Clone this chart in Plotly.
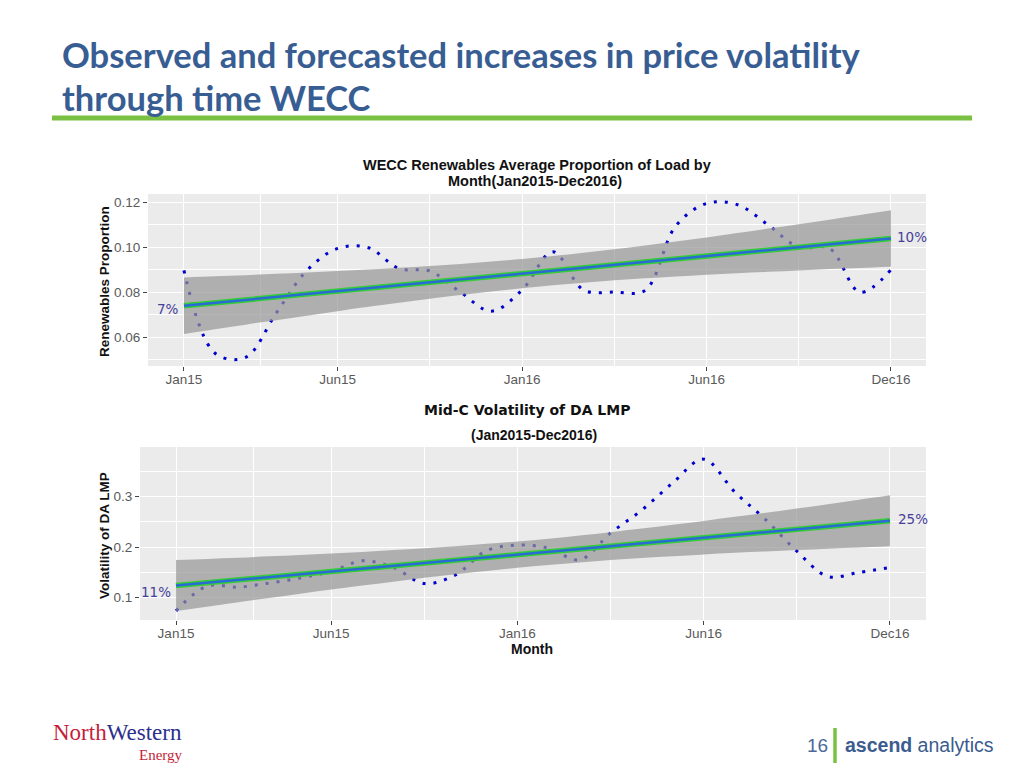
import plotly.graph_objects as go

# ---------------- data ----------------
MONTH_IDX = list(range(24))  # Jan15 .. Dec16
TICK_POS = [0, 5, 11, 17, 23]
TICK_TEXT = ["Jan15", "Jun15", "Jan16", "Jun16", "Dec16"]
MINOR_X = [2.5, 8, 14, 20]

RENEW = [0.0897, 0.053, 0.051, 0.0707, 0.0897, 0.0995, 0.0998, 0.0905, 0.0894, 0.080,
         0.0716, 0.081, 0.098, 0.081, 0.0801, 0.0808, 0.1095, 0.1195, 0.119, 0.110,
         0.100, 0.0995, 0.080, 0.090]
RENEW_TREND = [0.0740, 0.0753, 0.0766, 0.0779, 0.0792, 0.0805, 0.0818, 0.0831, 0.0844, 0.0857,
               0.0870, 0.0883, 0.0896, 0.0909, 0.0922, 0.0935, 0.0948, 0.0961, 0.0974, 0.0987,
               0.1000, 0.1013, 0.1026, 0.1039]
RENEW_LOW = [0.0614, 0.0635, 0.0656, 0.0676, 0.0696, 0.0716, 0.0735, 0.0753, 0.0771, 0.0788,
             0.0803, 0.0818, 0.0831, 0.0842, 0.0853, 0.0862, 0.0870, 0.0878, 0.0885, 0.0891,
             0.0897, 0.0903, 0.0908, 0.0913]
RENEW_HIGH = [0.0866, 0.0871, 0.0876, 0.0882, 0.0888, 0.0894, 0.0901, 0.0909, 0.0917, 0.0926,
              0.0937, 0.0948, 0.0961, 0.0976, 0.0991, 0.1008, 0.1026, 0.1044, 0.1063, 0.1083,
              0.1103, 0.1123, 0.1144, 0.1165]
RENEW_YTICKS = [0.06, 0.08, 0.10, 0.12]
RENEW_YTEXT = ["0.06", "0.08", "0.10", "0.12"]
RENEW_YMINOR = [0.05, 0.07, 0.09, 0.11]

VOL = [0.074, 0.123, 0.121, 0.129, 0.139, 0.152, 0.173, 0.160, 0.128, 0.145,
       0.193, 0.204, 0.198, 0.175, 0.228, 0.273, 0.327, 0.374, 0.309, 0.254,
       0.192, 0.142, 0.150, 0.160]
VOL_TREND = [0.1240, 0.1296, 0.1351, 0.1407, 0.1463, 0.1519, 0.1574, 0.1630, 0.1686, 0.1741,
             0.1797, 0.1853, 0.1908, 0.1964, 0.2020, 0.2076, 0.2131, 0.2187, 0.2243, 0.2298,
             0.2354, 0.2410, 0.2465, 0.2521]
VOL_LOW = [0.0736, 0.0824, 0.0911, 0.0995, 0.1079, 0.1163, 0.1242, 0.1318, 0.1394, 0.1465,
           0.1529, 0.1593, 0.1648, 0.1696, 0.1744, 0.1784, 0.1819, 0.1855, 0.1887, 0.1914,
           0.1942, 0.1970, 0.1993, 0.2017]
VOL_HIGH = [0.1744, 0.1768, 0.1791, 0.1819, 0.1847, 0.1875, 0.1906, 0.1942, 0.1978, 0.2017,
            0.2065, 0.2113, 0.2168, 0.2232, 0.2296, 0.2368, 0.2443, 0.2519, 0.2599, 0.2682,
            0.2766, 0.2850, 0.2937, 0.3025]
VOL_YTICKS = [0.1, 0.2, 0.3]
VOL_YTEXT = ["0.1", "0.2", "0.3"]
VOL_YMINOR = [0.15, 0.25, 0.35]

LABELS = {"renew_start": "7%", "renew_end": "10%", "vol_start": "11%", "vol_end": "25%"}


def px(x):
    return x / 1024.0


def py(y):
    return 1 - y / 768.0


DOT_BLUE = "#0000CD"
BAND = "rgba(150,150,150,0.7)"
GREEN = "#35CC3A"
LINE_BLUE = "#2A6AD4"
LABEL_COL = "#46409A"

fig = go.Figure()


def add_panel(xa, ya, series, trend, low, high):
    fig.add_trace(go.Scatter(x=MONTH_IDX, y=series, mode="lines", xaxis=xa, yaxis=ya,
                             line=dict(color=DOT_BLUE, width=3, dash="3px,8px",
                                       shape="spline", smoothing=1.0),
                             hoverinfo="skip"))
    fig.add_trace(go.Scatter(x=MONTH_IDX, y=high, mode="lines", xaxis=xa, yaxis=ya,
                             line=dict(width=0, color=BAND, shape="spline"),
                             hoverinfo="skip"))
    fig.add_trace(go.Scatter(x=MONTH_IDX, y=low, mode="lines", xaxis=xa, yaxis=ya,
                             line=dict(width=0, color=BAND, shape="spline"),
                             fill="tonexty", fillcolor=BAND, hoverinfo="skip"))
    fig.add_trace(go.Scatter(x=MONTH_IDX, y=trend, mode="lines", xaxis=xa, yaxis=ya,
                             line=dict(color=GREEN, width=5.5), hoverinfo="skip"))
    fig.add_trace(go.Scatter(x=MONTH_IDX, y=trend, mode="lines", xaxis=xa, yaxis=ya,
                             line=dict(color=LINE_BLUE, width=2.5), hoverinfo="skip"))


add_panel("x", "y", RENEW, RENEW_TREND, RENEW_LOW, RENEW_HIGH)
add_panel("x2", "y2", VOL, VOL_TREND, VOL_LOW, VOL_HIGH)

tickfont = dict(family="Liberation Sans, Arial", size=13.5, color="#5A5A5A")
common = dict(showline=False, zeroline=False, ticks="outside", ticklen=4,
              tickcolor="#444444", tickwidth=1, showgrid=True, gridcolor="white",
              gridwidth=1.2, tickfont=tickfont, fixedrange=True)


def minor(vals):
    return dict(tickvals=vals, showgrid=True, gridcolor="white", gridwidth=0.6, ticks="")


fig.update_layout(
    width=1024, height=768, margin=dict(l=0, r=0, t=0, b=0),
    paper_bgcolor="white", plot_bgcolor="#EBEBEB", showlegend=False,
    xaxis=dict(domain=[px(148), px(926)], range=[-1.17, 24.14], tickmode="array",
               tickvals=TICK_POS, ticktext=TICK_TEXT, minor=minor(MINOR_X), anchor="y",
               ticklabelstandoff=-3, **common),
    yaxis=dict(domain=[py(366), py(194)], range=[0.0472, 0.1237], tickmode="array",
               tickvals=RENEW_YTICKS, ticktext=RENEW_YTEXT, minor=minor(RENEW_YMINOR),
               anchor="x", **common),
    xaxis2=dict(domain=[px(140), px(926)], range=[-1.16, 24.16], tickmode="array",
                tickvals=TICK_POS, ticktext=TICK_TEXT, minor=minor(MINOR_X), anchor="y2",
                ticklabelstandoff=-3, **common),
    yaxis2=dict(domain=[py(620), py(447)], range=[0.056, 0.398], tickmode="array",
                tickvals=VOL_YTICKS, ticktext=VOL_YTEXT, minor=minor(VOL_YMINOR),
                anchor="x2", **common),
)

ann = []
TITLE_FONT = dict(family="Lato, Carlito, Calibri, sans-serif", size=34.5, color="#385D93")
ann.append(dict(text="<b>Observed and forecasted increases in price volatility</b>",
                x=px(60), y=py(54), xref="paper", yref="paper", xanchor="left",
                yanchor="middle", showarrow=False, font=TITLE_FONT))
ann.append(dict(text="<b>through time WECC</b>", x=px(60), y=py(97), xref="paper", yref="paper",
                xanchor="left", yanchor="middle", showarrow=False, font=TITLE_FONT))

CT = dict(family="Liberation Sans, Arial", size=14.5, color="#111111")
ann.append(dict(text="<b>WECC Renewables Average Proportion of Load by</b>", x=px(537), y=py(165),
                xref="paper", yref="paper", xanchor="center", yanchor="middle",
                showarrow=False, font=CT))
ann.append(dict(text="<b>Month(Jan2015-Dec2016)</b>", x=px(535), y=py(181),
                xref="paper", yref="paper", xanchor="center", yanchor="middle",
                showarrow=False, font=CT))
ann.append(dict(text="<b>Mid-C Volatility of DA LMP</b>", x=px(527), y=py(410),
                xref="paper", yref="paper", xanchor="center", yanchor="middle",
                showarrow=False, font=dict(family="DejaVu Sans", size=14, color="#111111")))
ann.append(dict(text="<b>(Jan2015-Dec2016)</b>", x=px(534), y=py(435),
                xref="paper", yref="paper", xanchor="center", yanchor="middle",
                showarrow=False, font=dict(family="Liberation Sans, Arial", size=14, color="#111111")))
ann.append(dict(text="<b>Month</b>", x=px(532), y=py(649),
                xref="paper", yref="paper", xanchor="center", yanchor="middle",
                showarrow=False, font=dict(family="Liberation Sans, Arial", size=14, color="#111111")))

AT = dict(family="Liberation Sans, Arial", size=13.5, color="#111111")
ann.append(dict(text="<b>Renewables Proportion</b>", x=px(104), y=py(282), textangle=-90,
                xref="paper", yref="paper", xanchor="center", yanchor="middle",
                showarrow=False, font=AT))
ann.append(dict(text="<b>Volatility of DA LMP</b>", x=px(104), y=py(536), textangle=-90,
                xref="paper", yref="paper", xanchor="center", yanchor="middle",
                showarrow=False, font=AT))

LF = dict(family="DejaVu Sans", size=13.5, color=LABEL_COL)
ann.append(dict(text=LABELS["renew_start"], x=0, y=0.0727, xref="x", yref="y", xanchor="right",
                yanchor="middle", xshift=-3, showarrow=False, font=LF))
ann.append(dict(text=LABELS["renew_end"], x=23, y=0.1047, xref="x", yref="y", xanchor="left",
                yanchor="middle", xshift=4, showarrow=False, font=LF))
ann.append(dict(text=LABELS["vol_start"], x=0, y=0.1119, xref="x2", yref="y2", xanchor="right",
                yanchor="middle", xshift=-3, showarrow=False, font=LF))
ann.append(dict(text=LABELS["vol_end"], x=23, y=0.2558, xref="x2", yref="y2", xanchor="left",
                yanchor="middle", xshift=6, showarrow=False, font=LF))

# footer
ann.append(dict(text='<span style="color:#C41E3A">North</span><span style="color:#2B2F8C">Western</span>',
                x=px(184), y=py(732), xref="paper", yref="paper", xanchor="right", yanchor="middle",
                showarrow=False, font=dict(family="Liberation Serif, Times New Roman", size=23)))
ann.append(dict(text="Energy", x=px(185), y=py(755), xref="paper", yref="paper", xanchor="right",
                yanchor="middle", showarrow=False,
                font=dict(family="Liberation Serif, Times New Roman", size=15, color="#C41E3A")))
ann.append(dict(text="16", x=px(817), y=py(745), xref="paper", yref="paper", xanchor="center",
                yanchor="middle", showarrow=False,
                font=dict(family="Liberation Sans, Arial", size=19, color="#4A6A9A")))
ann.append(dict(text="<b>ascend</b> analytics", x=px(843), y=py(745), xref="paper", yref="paper",
                xanchor="left", yanchor="middle", showarrow=False,
                font=dict(family="Liberation Sans, Arial", size=19.5, color="#3B5C8F")))

fig.update_layout(annotations=ann)

fig.add_shape(type="line", xref="paper", yref="paper", x0=px(52), x1=px(972), y0=py(118), y1=py(118),
              line=dict(color="#7AC143", width=5))
fig.add_shape(type="line", xref="paper", yref="paper", x0=px(835), x1=px(835), y0=py(728), y1=py(763),
              line=dict(color="#7AC143", width=3.5))

fig.write_html("out.html", config={"displayModeBar": False},
               post_script="document.body.style.margin='0px';")
